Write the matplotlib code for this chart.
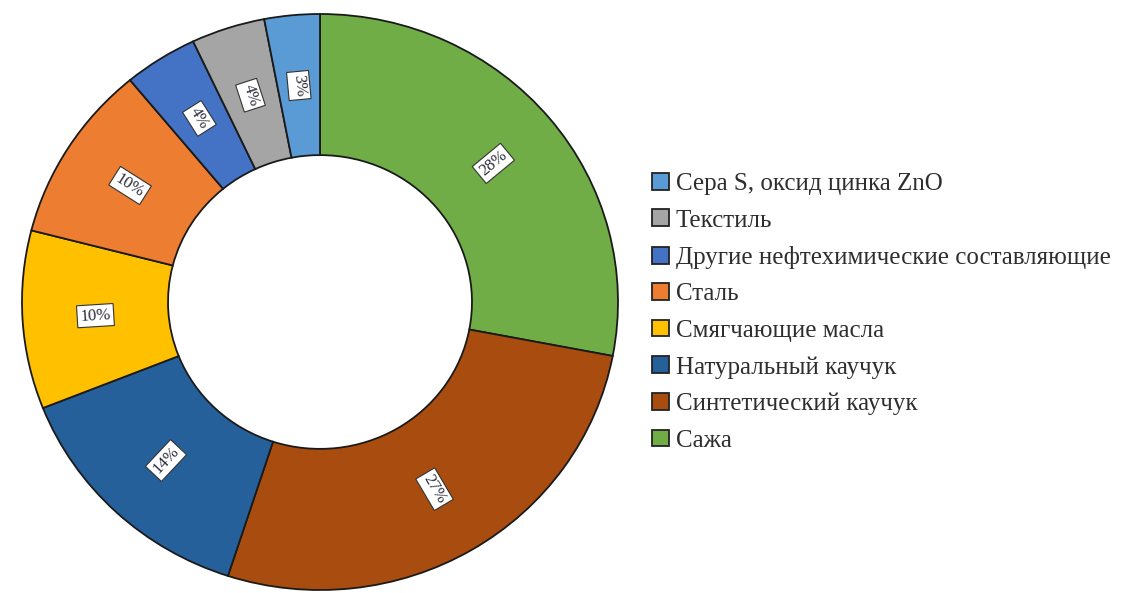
import numpy as np
import matplotlib.pyplot as plt
from matplotlib.patches import Patch

plt.rcParams['font.family'] = ['Liberation Serif', 'DejaVu Serif']

# wedge order: clockwise from 12 o'clock
labels = ["Сажа", "Синтетический каучук", "Натуральный каучук", "Смягчающие масла",
          "Сталь", "Другие нефтехимические составляющие", "Текстиль", "Сера S, оксид цинка ZnO"]
shares = [28, 27, 14, 10, 10, 4, 4, 3]
colors = ["#70AD47", "#A94C0F", "#25609A", "#FFC000",
          "#ED7D31", "#4472C4", "#A5A5A5", "#5B9BD5"]

fig = plt.figure(figsize=(11.41, 5.93), dpi=100)
ax = fig.add_axes([22 / 1141, 3 / 593, 596 / 1141, 576 / 593])

wedges, _ = ax.pie(shares, colors=colors, startangle=90, counterclock=False,
                   radius=1.0, wedgeprops=dict(width=0.49, edgecolor="#1a1a1a", linewidth=1.3))
for w in wedges:
    w.set_clip_on(False)
ax.set_xlim(-1, 1)
ax.set_ylim(-1, 1)
ax.set_aspect("auto")
ax.axis("off")

# percentage labels, turned along the radius
total = sum(shares)
start = 0
for s in shares:
    mid = (start + s / 2) / total
    ang = 90 - mid * 360
    rad = np.deg2rad(ang)
    rot = (ang + 180) % 360 - 180
    if rot > 90:
        rot -= 180
    elif rot < -90:
        rot += 180
    ax.text(0.755 * np.cos(rad), 0.755 * np.sin(rad), f"{s}%", rotation=rot,
            ha="center", va="center", fontsize=12, color="#2b2b3a",
            rotation_mode="anchor",
            bbox=dict(boxstyle="square,pad=0.18", fc="white", ec="#333333", lw=0.8))
    start += s

handles = [Patch(facecolor=c, edgecolor="#222222", linewidth=1.3) for c in colors]
fig.legend(handles[::-1], labels[::-1], loc="upper left",
           bbox_to_anchor=(652 / 1141, 1 - 173 / 593), frameon=False,
           borderaxespad=0, borderpad=0,
           fontsize=18, handlelength=0.66, handleheight=0.66, handletextpad=0.3,
           labelspacing=0.57, labelcolor="#2e2e2e")

fig.savefig("out.png", dpi=100)
